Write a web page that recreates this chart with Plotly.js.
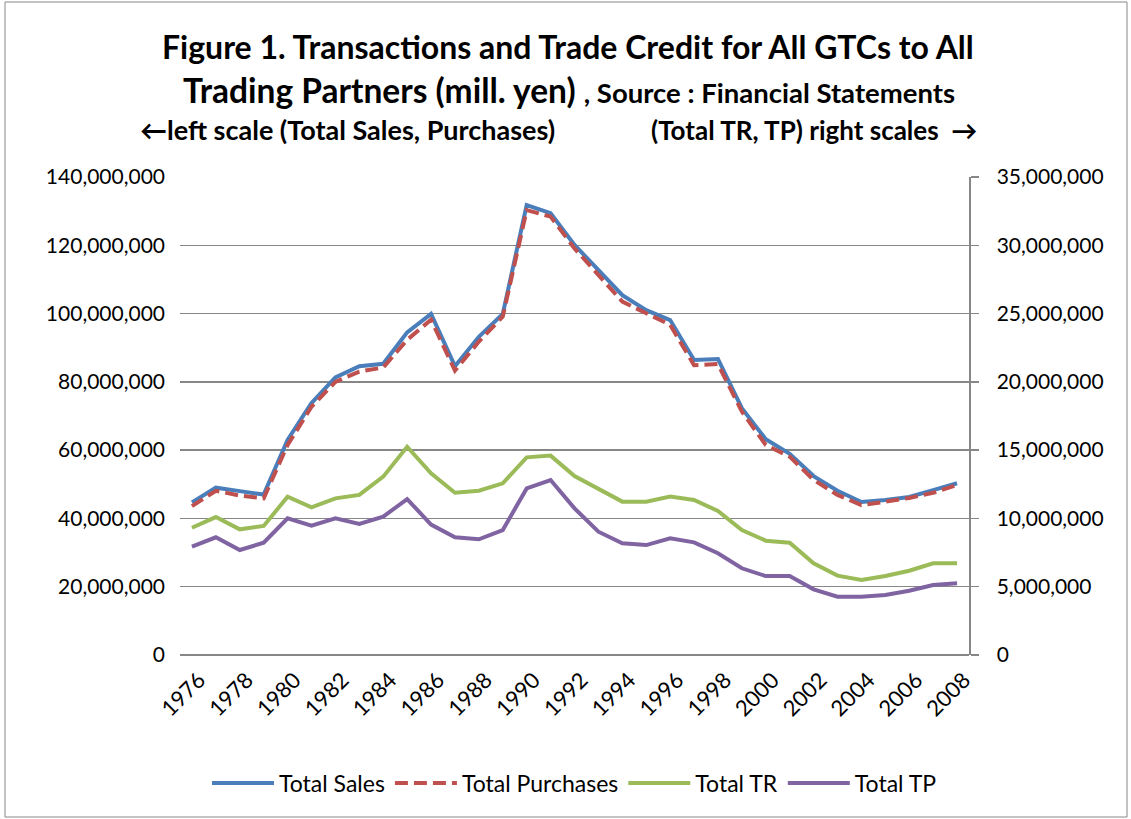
<!DOCTYPE html>
<html>
<head>
<meta charset="utf-8">
<script src="https://cdn.plot.ly/plotly-3.0.1.min.js"></script>
<style>
html,body{margin:0;padding:0;background:#fff;}
#chart{width:1131px;height:819px;}
</style>
</head>
<body>
<div id="chart"></div>
<script>
const years = [1976,1977,1978,1979,1980,1981,1982,1983,1984,1985,1986,1987,1988,1989,1990,1991,1992,1993,1994,1995,1996,1997,1998,1999,2000,2001,2002,2003,2004,2005,2006,2007,2008];
const totalSales = [44.7,49.0,48.0,47.0,63.0,73.8,81.3,84.6,85.3,94.5,99.9,84.6,93.2,99.9,131.8,129.4,120.1,112.8,105.4,101.0,98.1,86.4,86.7,72.3,63.2,58.9,52.4,48.1,44.8,45.4,46.3,48.3,50.3].map(v=>v*1e6);
const totalPurchases = [43.6,48.1,46.7,45.9,61.5,72.7,80.0,83.0,84.2,92.3,98.2,83.3,91.8,99.1,130.3,128.4,119.1,111.3,103.5,100.1,96.7,84.9,85.2,71.3,61.5,58.1,51.3,46.9,43.9,44.9,46.0,47.5,49.8].map(v=>v*1e6);
const totalTR = [9.32,10.1,9.2,9.45,11.59,10.81,11.47,11.72,13.06,15.25,13.3,11.88,12.03,12.57,14.47,14.6,13.1,12.2,11.23,11.23,11.6,11.35,10.55,9.15,8.37,8.22,6.71,5.81,5.49,5.78,6.17,6.71,6.71].map(v=>v*1e6);
const totalTP = [7.93,8.62,7.69,8.22,10.01,9.47,10.01,9.59,10.13,11.42,9.55,8.62,8.47,9.15,12.2,12.81,10.74,9.03,8.18,8.05,8.54,8.25,7.45,6.35,5.78,5.78,4.81,4.27,4.27,4.39,4.71,5.13,5.25].map(v=>v*1e6);
const xTicks = [1976,1978,1980,1982,1984,1986,1988,1990,1992,1994,1996,1998,2000,2002,2004,2006,2008];

const FONT = 'Lato, "Open Sans", sans-serif';
const L = 180, R = 969, T = 177, B = 655;
const px = v => (v - L) / (R - L);
const py = v => (B - v) / (B - T);

const traces = [
  {x: years, y: totalSales, name: 'Total Sales', type: 'scatter', mode: 'lines', line: {color: '#4A7EBB', width: 4}, yaxis: 'y'},
  {x: years, y: totalPurchases, name: 'Total Purchases', type: 'scatter', mode: 'lines', line: {color: '#C0504D', width: 4, dash: '13px,6px'}, yaxis: 'y'},
  {x: years, y: totalTR, name: 'Total TR', type: 'scatter', mode: 'lines', line: {color: '#9BBB59', width: 4}, yaxis: 'y2'},
  {x: years, y: totalTP, name: 'Total TP', type: 'scatter', mode: 'lines', line: {color: '#8064A2', width: 4}, yaxis: 'y2'}
];

const layout = {
  width: 1131, height: 819,
  margin: {l: L, r: 1131 - R, t: T, b: 819 - B, pad: 0},
  paper_bgcolor: '#fff', plot_bgcolor: '#fff',
  font: {family: FONT, size: 21, color: '#000'},
  showlegend: true,
  xaxis: {
    range: [1975.5, 2008.5], tickvals: xTicks, ticktext: xTicks.map(String),
    tickangle: -45, showgrid: false, zeroline: false, showline: false, ticks: '',
    ticklabelstandoff: 7, ticklabelshift: 7,
    tickfont: {family: FONT, size: 22}
  },
  yaxis: {
    range: [0, 140e6], dtick: 20e6, tickformat: ',d', showgrid: true,
    gridcolor: '#878787', gridwidth: 1.5, zeroline: true, zerolinecolor: '#878787', zerolinewidth: 1.5,
    showline: false, ticks: '', ticklabelstandoff: 14,
    tickfont: {family: FONT, size: 21}
  },
  yaxis2: {
    range: [0, 35e6], dtick: 5e6, tickformat: ',d', overlaying: 'y', side: 'right',
    showgrid: false, zeroline: false, showline: true, linecolor: '#878787', linewidth: 1.5,
    ticks: 'outside', ticklen: 8, tickcolor: '#878787', tickwidth: 1.5, ticklabelstandoff: 14,
    tickfont: {family: FONT, size: 21}
  },
  legend: {
    orientation: 'h', x: 0.5, xanchor: 'center', y: py(783), yanchor: 'middle',
    font: {family: FONT, size: 23}, itemwidth: 62, bgcolor: 'rgba(0,0,0,0)'
  },
  annotations: [
    {xref: 'paper', yref: 'paper', x: px(568), y: py(46), xanchor: 'center', yanchor: 'middle', showarrow: false,
     text: '<b>Figure 1. Transactions and Trade Credit for All GTCs to All</b>', font: {family: FONT, size: 32}},
    {xref: 'paper', yref: 'paper', x: px(569), y: py(90), xanchor: 'center', yanchor: 'middle', showarrow: false,
     text: '<b>Trading Partners (mill. yen) <span style="font-size:27.5px">, Source : Financial Statements</span></b>', font: {family: FONT, size: 33.5}},
    {xref: 'paper', yref: 'paper', x: px(138), y: py(130), xanchor: 'left', yanchor: 'middle', showarrow: false,
     text: '<b>\u2190left scale (Total Sales, Purchases)</b>', font: {family: FONT, size: 27}},
    {xref: 'paper', yref: 'paper', x: px(979), y: py(130), xanchor: 'right', yanchor: 'middle', showarrow: false,
     text: '<b>(Total TR, TP) right scales  \u2192</b>', font: {family: FONT, size: 26}}
  ],
  shapes: [
    {type: 'rect', xref: 'paper', yref: 'paper', x0: px(5), x1: px(1127), y0: py(817), y1: py(2), line: {color: '#888', width: 1}, fillcolor: 'rgba(0,0,0,0)', layer: 'below'}
  ]
};

Plotly.newPlot('chart', traces, layout, {displayModeBar: false, staticPlot: true});
</script>
</body>
</html>
